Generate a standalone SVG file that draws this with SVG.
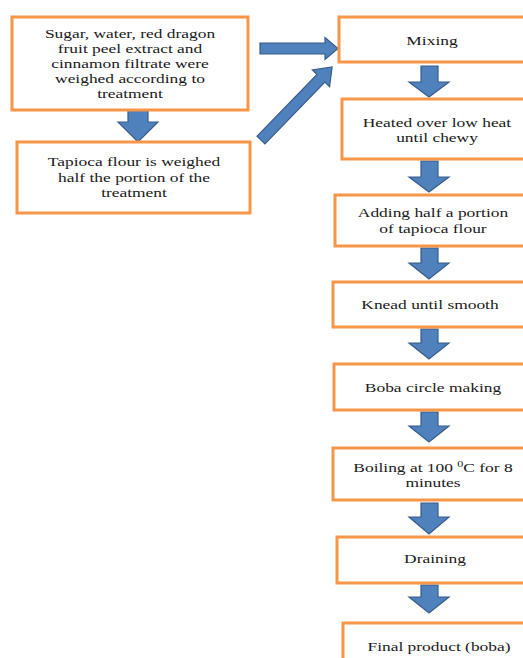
<svg xmlns="http://www.w3.org/2000/svg" width="523" height="658" viewBox="0 0 523 658" font-family="'Liberation Serif', 'DejaVu Serif', serif">
<style>
.box{fill:#fff;stroke:#F79646;stroke-width:3}
.arr{fill:#4F81BD;stroke:#385D8A;stroke-width:1.2;stroke-linejoin:miter}
.t{font-family:'Liberation Serif','DejaVu Serif',serif;font-size:13px;fill:#1a1a1a;text-anchor:middle}
</style>
<rect width="523" height="658" fill="#fff"/>
<g id="connectors">
<path class="arr" d="M128,108 H148 V122 H158 L138,142 L118,122 H128 Z"/>
<path class="arr" d="M260,43 H325 V37.5 L338,48.5 L325,59.5 V54 H260 Z"/>
<path class="arr" transform="translate(261,140) rotate(-45.8)" d="M0,-5.5 H86 V-12 L102,0 L86,12 V5.5 H0 Z"/>
<path class="arr" d="M421,66 H438 V82 H449 L429,97 L409,82 H421 Z"/>
<path class="arr" d="M421,161 H438 V177 H449 L429,192 L409,177 H421 Z"/>
<path class="arr" d="M421,248 H438 V263 H449 L429,279 L409,263 H421 Z"/>
<path class="arr" d="M421,329 H438 V343 H449 L429,359 L409,343 H421 Z"/>
<path class="arr" d="M421,412 H438 V426 H449 L429,442 L409,426 H421 Z"/>
<path class="arr" d="M421,503 H438 V517 H449 L429,534 L409,517 H421 Z"/>
<path class="arr" d="M421,585 H438 V597 H449 L429,613 L409,597 H421 Z"/>
</g>
<g id="n1"><rect class="box" x="12" y="17" width="236" height="93"/>
<g class="t" transform="translate(130,0) scale(1.34,1)"><text y="38">Sugar, water, red dragon</text><text y="53">fruit peel extract and</text><text y="68">cinnamon filtrate were</text><text y="83">weighed according to</text><text y="98">treatment</text></g></g>
<g id="n2"><rect class="box" x="17" y="142" width="233" height="71"/>
<g class="t" transform="translate(134,0) scale(1.34,1)"><text y="166">Tapioca  flour is weighed</text><text y="182">half the portion of the</text><text y="197">treatment</text></g></g>
<g id="n3"><rect class="box" x="339" y="17" width="190" height="45"/>
<g class="t" transform="translate(432,0) scale(1.34,1)"><text y="45">Mixing</text></g></g>
<g id="n4"><rect class="box" x="342" y="99" width="190" height="60"/>
<g class="t" transform="translate(437,0) scale(1.34,1)"><text y="127">Heated over  low heat</text><text y="142">until chewy</text></g></g>
<g id="n5"><rect class="box" x="335" y="195" width="195" height="51"/>
<g class="t" transform="translate(433,0) scale(1.34,1)"><text y="217">Adding half a portion</text><text y="233">of tapioca flour</text></g></g>
<g id="n6"><rect class="box" x="333" y="282" width="195" height="45"/>
<g class="t" transform="translate(430,0) scale(1.34,1)"><text y="309">Knead until smooth</text></g></g>
<g id="n7"><rect class="box" x="334" y="364" width="195" height="46"/>
<g class="t" transform="translate(433,0) scale(1.34,1)"><text y="392">Boba circle making</text></g></g>
<g id="n8"><rect class="box" x="333" y="448" width="195" height="52"/>
<g class="t" transform="translate(433,0) scale(1.34,1)"><text y="472">Boiling at 100 <tspan font-size="9" dy="-5">0</tspan><tspan dy="5">C for 8</tspan></text><text y="487">minutes</text></g></g>
<g id="n9"><rect class="box" x="337" y="537" width="195" height="46"/>
<g class="t" transform="translate(435,0) scale(1.34,1)"><text y="563">Draining</text></g></g>
<g id="n10"><rect class="box" x="343" y="623" width="195" height="50"/>
<g class="t" transform="translate(439,0) scale(1.34,1)"><text y="651">Final product (boba)</text></g></g>
</svg>
